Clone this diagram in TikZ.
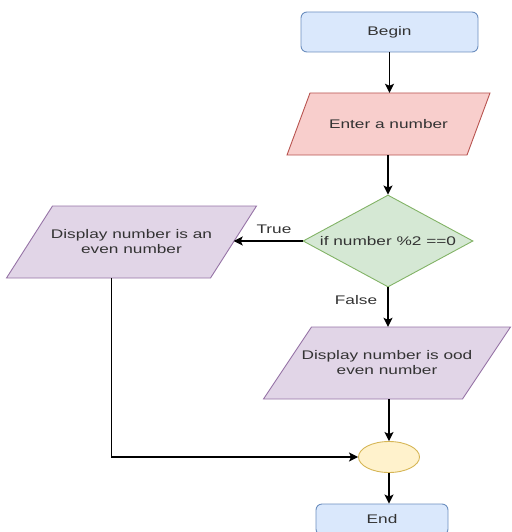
\documentclass[tikz,border=0pt]{standalone}
\usepackage{fontspec}
\usetikzlibrary{shapes.geometric,arrows.meta,calc}
\newfontfamily\dfont{Liberation Sans}[FakeStretch=1.38]
\definecolor{txtc}{HTML}{333333}
\definecolor{bluef}{HTML}{DAE8FC}\definecolor{blued}{HTML}{6C8EBF}
\definecolor{redf}{HTML}{F8CECC}\definecolor{redd}{HTML}{B85450}
\definecolor{greenf}{HTML}{D5E8D4}\definecolor{greend}{HTML}{82B366}
\definecolor{purpf}{HTML}{E1D5E7}\definecolor{purpd}{HTML}{9673A6}
\definecolor{yelf}{HTML}{FFF2CC}\definecolor{yeld}{HTML}{D6B656}
\tikzset{
  txt/.style={font=\dfont\fontsize{12.5}{15}\selectfont, text=txtc, align=center, inner sep=0pt},
  termbox/.style={txt, rectangle, rounded corners=6pt, draw=blued, fill=bluef, line width=0.9pt},
  redpara/.style={draw=redd, fill=redf, line width=0.9pt},
  purppara/.style={draw=purpd, fill=purpf, line width=0.9pt},
  decbox/.style={txt, diamond, draw=greend, fill=greenf, line width=0.9pt},
  joinbox/.style={ellipse, draw=yeld, fill=yelf, line width=0.9pt, inner sep=0pt},
  arr/.style={draw=black, line width=1.3pt, -{Stealth[length=9pt,width=9pt,inset=2pt]}},
  lbl/.style={txt}
}
% #1 name, #2 cx, #3 cy, #4 mid width, #5 height, #6 slant, #7 style, #8 text
\newcommand\paral[8]{%
  \path[#7] ({#2-#4/2+#6/2},{#3-#5/2}) -- ({#2+#4/2+#6/2},{#3-#5/2})
    -- ({#2+#4/2-#6/2},{#3+#5/2}) -- ({#2-#4/2-#6/2},{#3+#5/2}) -- cycle;
  \node[txt, minimum width=#4pt, minimum height=#5pt] (#1) at (#2,#3) {#8};}
\begin{document}
\begin{tikzpicture}[x=1pt,y=-1pt]
\useasboundingbox (0,0) rectangle (511,532);
\node[termbox, minimum width=177pt, minimum height=40pt] (b) at (389.5,32) {Begin};
\paral{e}{388.5}{124}{180}{62}{23}{redpara}{Enter a number}
\node[decbox, minimum width=170pt, minimum height=92pt] (d) at (388,241) {\makebox[0pt]{if number \%2 ==0}};
\paral{L}{131.5}{242}{204}{72}{46}{purppara}{Display number is an\\even number}
\paral{o}{387}{363}{199}{72}{48}{purppara}{Display number is ood\\even number}
\node[joinbox, minimum width=61pt, minimum height=31pt] (c) at (389,457) {};
\node[termbox, minimum width=132pt, minimum height=31pt] (z) at (382,519.5) {End};
\draw[arr] (b.south) -- (b.south |- e.north);
\draw[arr] (e.south -| d.north) -- (d.north);
\draw[arr] (d.west) -- (d.west -| L.east);
\draw[arr] (d.south) -- (d.south |- o.north);
\draw[arr] (o.south -| c.north) -- (c.north);
\draw[arr] ([xshift=-20pt]L.south) |- (c.west);
\draw[arr] (c.south) -- (c.south |- z.north);
\node[lbl] (t) at (274,229) {True};
\node[lbl] (f) at (356,300) {False};
\end{tikzpicture}
\end{document}
